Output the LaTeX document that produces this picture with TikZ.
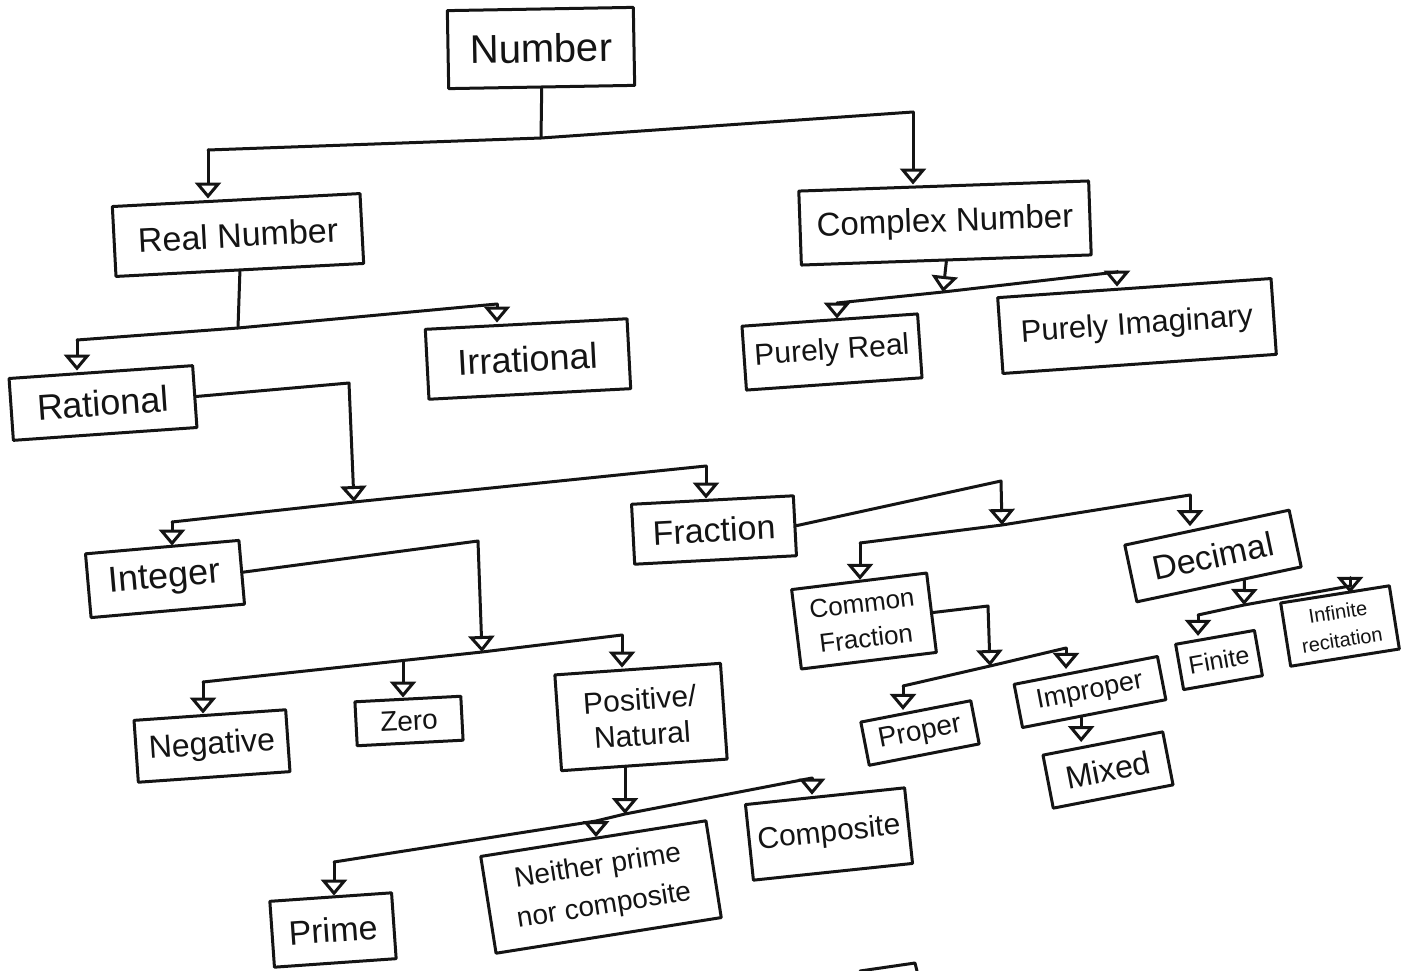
\documentclass[tikz,border=0pt]{standalone}
\usepackage{fontspec}
\setmainfont{Liberation Sans}
\usetikzlibrary{arrows.meta}
\definecolor{ink}{HTML}{141414}
\newcommand{\boxfont}[1]{\fontsize{#1}{\fpeval{1.18*#1}}\selectfont}
\tikzset{
  box/.style={draw=ink, line width=3pt, text=ink, inner sep=0pt, line join=round, align=center},
  sz/.style 2 args={minimum width=#1pt, minimum height=#2pt},
  fs/.style={font=\boxfont{#1}},
  link/.style={draw=ink, line width=3pt, line cap=round, line join=round},
  arr/.style={link, -{Triangle[open, length=16pt, width=26pt]}},
}

\begin{document}
\begin{tikzpicture}[x=1pt, y=-1pt]
  \fill[white] (0,0) rectangle (1414,971);
  \useasboundingbox (0,0) rectangle (1414,971);

  % top levels
  \node[box, sz={186}{78}, fs=40, rotate=1] (num) at (541,48) {Number};
  \node[box, sz={248}{70}, fs=34, rotate=3] (real) at (238,235) {Real Number};
  \node[box, sz={290}{74}, fs=33, rotate=2] (cplx) at (945,223) {Complex Number};
  \node[box, sz={184}{62}, fs=36, rotate=4] (rat) at (103,403) {Rational};
  \node[box, sz={202}{70}, fs=36, rotate=3] (irr) at (528,359) {Irrational};
  \node[box, sz={176}{64}, fs=30, rotate=4] (preal) at (832,352) {Purely Real};
  \node[box, sz={274}{76}, fs=31, rotate=4] (pimag) at (1137,326) {Purely Imaginary};

  % rational
  \node[box, sz={154}{64}, fs=36, rotate=5] (int) at (165,579) {Integer};
  \node[box, sz={162}{60}, fs=34, rotate=3] (frac) at (714,530) {Fraction};
  \node[box, sz={136}{80}, font=\fontsize{26}{35}\selectfont, rotate=7] (cfrac) at (864,621) {Common\\Fraction};
  \node[box, sz={168}{58}, fs=34, rotate=12] (dec) at (1213,556) {Decimal};

  % integer
  \node[box, sz={152}{62}, fs=32, rotate=4] (neg) at (212,746) {Negative};
  \node[box, sz={106}{44}, fs=28, rotate=3] (zero) at (409,721) {Zero};
  \node[box, sz={166}{96}, fs=30, rotate=4] (pos) at (641,717) {Positive/\\Natural};

  % fraction
  \node[box, sz={112}{44}, fs=28, rotate=11] (prop) at (920,733) {Proper};
  \node[box, sz={146}{44}, fs=27, rotate=11] (improp) at (1090,692) {Improper};
  \node[box, sz={122}{54}, fs=32, rotate=11] (mixed) at (1108,770) {Mixed};
  \node[box, sz={80}{46}, fs=25, rotate=10] (fin) at (1219,660) {Finite};
  \node[box, sz={110}{64}, font=\fontsize{20}{28}\selectfont, rotate=9] (infin) at (1340,626) {Infinite\\recitation};

  % natural
  \node[box, sz={122}{66}, fs=34, rotate=4] (prime) at (333,930) {Prime};
  \node[box, sz={228}{98}, font=\fontsize{28}{40}\selectfont, rotate=9] (neither) at (601,887) {Neither prime\\nor composite};
  \node[box, sz={160}{76}, fs=30, rotate=6] (comp) at (829,834) {Composite};

  % junctions
  \coordinate (jNum) at (541,138);
  \coordinate (bNumL) at (208,150);
  \coordinate (bNumR) at (913,112);
  \coordinate (jReal) at (238,328);
  \coordinate (bRealL) at (77,340);
  \coordinate (bRealR) at (497,304);
  \coordinate (jCplx) at (943,292);
  \coordinate (bCplxL) at (837,303);
  \coordinate (bCplxR) at (1117,272);
  \coordinate (cRat) at (349,383);
  \coordinate (jRat) at (354,502);
  \coordinate (bRatL) at (172,522);
  \coordinate (bRatR) at (706,466);
  \coordinate (cFrac) at (1001,481);
  \coordinate (jFrac) at (1002,525);
  \coordinate (bFracL) at (860,543);
  \coordinate (bFracR) at (1190,495);
  \coordinate (cCf) at (988,606);
  \coordinate (jCf) at (990,666);
  \coordinate (bCfL) at (903,686);
  \coordinate (bCfR) at (1066,648);
  \coordinate (jDec) at (1244,605);
  \coordinate (bDecL) at (1198,615);
  \coordinate (bDecR) at (1350,586);
  \coordinate (cInt) at (478,541);
  \coordinate (jInt) at (482,652);
  \coordinate (bIntL) at (203,682);
  \coordinate (bIntM) at (403,662);
  \coordinate (bIntR) at (622,635);
  \coordinate (jPos) at (625,814);
  \coordinate (bPosL) at (334,862);
  \coordinate (bPosM) at (596,821);
  \coordinate (bPosR) at (812,778);

  % number
  \draw[link] (num.south) -- (jNum);
  \draw[link] (bNumL) -- (jNum) -- (bNumR);
  \draw[arr] (bNumL) -- (bNumL |- real.north);
  \draw[arr] (bNumR) -- (bNumR |- cplx.north);

  % real / complex
  \draw[link] (real.south) -- (jReal);
  \draw[link] (bRealL) -- (jReal) -- (bRealR);
  \draw[arr] (bRealL) -- (bRealL |- rat.north);
  \draw[arr] (bRealR) -- (bRealR |- irr.north);
  \draw[arr] (cplx.south) -- (jCplx);
  \draw[link] (bCplxL) -- (jCplx) -- (bCplxR);
  \draw[arr] (bCplxL) -- (bCplxL |- preal.north);
  \draw[arr] (bCplxR) -- (bCplxR |- pimag.north);

  % rational
  \draw[arr] (rat.east) -- (cRat) -- (jRat);
  \draw[link] (bRatL) -- (jRat) -- (bRatR);
  \draw[arr] (bRatL) -- (bRatL |- int.north);
  \draw[arr] (bRatR) -- (bRatR |- frac.north);

  % fraction
  \draw[arr] (frac.east) -- (cFrac) -- (jFrac);
  \draw[link] (bFracL) -- (jFrac) -- (bFracR);
  \draw[arr] (bFracL) -- (bFracL |- cfrac.north);
  \draw[arr] (bFracR) -- (bFracR |- dec.north);
  \draw[arr] (cfrac.east) -- (cCf) -- (jCf);
  \draw[link] (bCfL) -- (jCf) -- (bCfR);
  \draw[arr] (bCfL) -- (bCfL |- prop.north);
  \draw[arr] (bCfR) -- (bCfR |- improp.north);
  \draw[arr] (improp.-120) -- (improp.-120 |- mixed.north);
  \draw[arr] (dec.-50) -- (jDec);
  \draw[link] (bDecL) -- (jDec) -- (bDecR);
  \draw[arr] (bDecL) -- (bDecL |- fin.north);
  \draw[arr] (bDecR) -- (bDecR |- infin.north);

  % integer
  \draw[arr] (int.east) -- (cInt) -- (jInt);
  \draw[link] (bIntL) -- (jInt) -- (bIntR);
  \draw[arr] (bIntL) -- (bIntL |- neg.north);
  \draw[arr] (bIntM) -- (bIntM |- zero.north);
  \draw[arr] (bIntR) -- (bIntR |- pos.north);

  % natural
  \draw[arr] (jPos |- pos.south) -- (jPos);
  \draw[link] (bPosL) -- (bPosM) -- (jPos) -- (bPosR);
  \draw[arr] (bPosL) -- (bPosL |- prime.north);
  \draw[arr] (bPosM) -- (bPosM |- neither.north);
  \draw[arr] (bPosR) -- (bPosR |- comp.north);

  \draw[link] (860,971) -- (915,963) -- (917,971);
\end{tikzpicture}
\end{document}
